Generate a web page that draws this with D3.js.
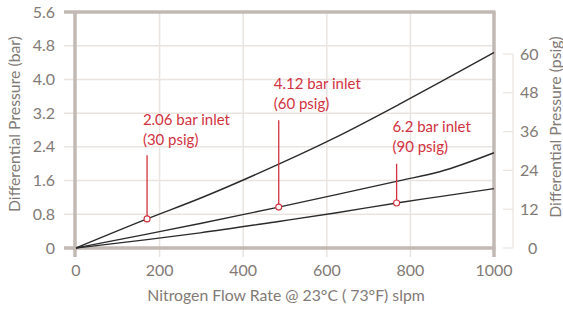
<!DOCTYPE html>
<html>
<head>
<meta charset="utf-8">
<script src="https://cdn.jsdelivr.net/npm/d3@7"></script>
<style>
  body { margin: 0; background: #fff; }
  svg { font-family: Lato, "Open Sans", sans-serif; }
</style>
</head>
<body>
<div id="chart"></div>
<script>
// flow (slpm) vs differential pressure (bar)
const flow = [0, 170, 297, 485, 620, 775, 870, 1000];
const bar206 = [0, 0.69, 1.18, 1.99, 2.62, 3.42, 3.93, 4.64];
const bar412 = [0, 0.33, 0.58, 0.97, 1.26, 1.6, 1.81, 2.26];
const bar62 = [0, 0.2, 0.36, 0.63, 0.83, 1.08, 1.22, 1.41];

const xTicks = [0, 200, 400, 600, 800, 1000];
const barTicks = [0, 0.8, 1.6, 2.4, 3.2, 4.0, 4.8, 5.6];
const psigTicks = [0, 12, 24, 36, 48, 60];

// annotations: label lines, flow of the marker, which series, label anchor in data units
const notes = [
  {lines: ["2.06 bar inlet", "(30 psig)"], flow: 170, series: bar206, lx: 160, ly: 2.93, top: 2.2},
  {lines: ["4.12 bar inlet", "(60 psig)"], flow: 485, series: bar412, lx: 473, ly: 3.77, top: 3.03},
  {lines: ["6.2 bar inlet", "(90 psig)"], flow: 767, series: bar62, lx: 757, ly: 2.76, top: 2.0}
];

const width = 563, height = 309;
const margin = {top: 12, right: 69, bottom: 61, left: 76};

const svg = d3.select("#chart").append("svg")
    .attr("width", width)
    .attr("height", height);

const x = d3.scaleLinear().domain([0, 1000]).range([margin.left, width - margin.right]);
const y = d3.scaleLinear().domain([0, 5.6]).range([height - margin.bottom, margin.top]);
// psig axis sits on its own scale
const y2 = d3.scaleLinear().domain([0, 60]).range([height - margin.bottom, 54]);

const gridCol = "#e9e4e0", axisCol = "#c2b9b3", textCol = "#827a76", red = "#d2323f";

// horizontal gridlines with a short stub to the left
svg.append("g")
  .selectAll("line")
  .data(barTicks.slice(1, -1))
  .join("line")
    .attr("x1", margin.left - 12)
    .attr("x2", x(1000))
    .attr("y1", d => y(d))
    .attr("y2", d => y(d))
    .attr("stroke", gridCol)
    .attr("stroke-width", 1.5);

// vertical gridlines, stub below
svg.append("g")
  .selectAll("line")
  .data(xTicks.slice(1, -1))
  .join("line")
    .attr("x1", d => x(d))
    .attr("x2", d => x(d))
    .attr("y1", y(5.6))
    .attr("y2", y(0) + 9)
    .attr("stroke", gridCol)
    .attr("stroke-width", 1.5);

// thick frame lines
svg.append("line")
    .attr("x1", margin.left - 12).attr("x2", x(1000) + 1.5)
    .attr("y1", y(0)).attr("y2", y(0))
    .attr("stroke", axisCol).attr("stroke-width", 3.5);
svg.append("line")
    .attr("x1", margin.left - 12).attr("x2", x(1000) + 1.5)
    .attr("y1", y(5.6)).attr("y2", y(5.6))
    .attr("stroke", axisCol).attr("stroke-width", 3.5);
svg.append("line")
    .attr("x1", x(0) - 1).attr("x2", x(0) - 1)
    .attr("y1", y(5.6)).attr("y2", y(0) + 9)
    .attr("stroke", axisCol).attr("stroke-width", 3.5);
svg.append("line")
    .attr("x1", x(1000)).attr("x2", x(1000))
    .attr("y1", y(5.6)).attr("y2", y(0) + 9)
    .attr("stroke", axisCol).attr("stroke-width", 3.5);

// left tick labels
svg.append("g")
  .selectAll("text")
  .data(barTicks)
  .join("text")
    .attr("x", 55)
    .attr("y", d => y(d))
    .attr("dy", "0.35em")
    .attr("text-anchor", "end")
    .attr("font-size", 16)
    .attr("fill", textCol)
    .text(d => d3.format(".1f")(d).replace(/^0\.0$/, "0"));

// bottom tick labels
svg.append("g")
  .selectAll("text")
  .data(xTicks)
  .join("text")
    .attr("x", d => x(d))
    .attr("y", 270)
    .attr("dy", "0.35em")
    .attr("text-anchor", "middle")
    .attr("font-size", 16)
    .attr("fill", textCol)
    .text(d => d);

// right psig axis
const right = svg.append("g").attr("transform", "translate(513,0)");
right.append("line")
    .attr("y1", y2(60)).attr("y2", y2(0))
    .attr("stroke", gridCol).attr("stroke-width", 1.2);
right.selectAll(".tk")
  .data(psigTicks)
  .join("line")
    .attr("x1", -10).attr("x2", 0)
    .attr("y1", d => y2(d)).attr("y2", d => y2(d))
    .attr("stroke", gridCol).attr("stroke-width", 1.2);
right.selectAll("text")
  .data(psigTicks)
  .join("text")
    .attr("x", d => d === 0 ? 15 : 7)
    .attr("y", d => y2(d))
    .attr("dy", "0.35em")
    .attr("font-size", 16)
    .attr("fill", textCol)
    .text(d => d);

// axis titles
svg.append("text")
    .attr("transform", "translate(20,124) rotate(-90)")
    .attr("text-anchor", "middle")
    .attr("font-size", 15.8)
    .attr("fill", textCol)
    .text("Differential Pressure (bar)");
svg.append("text")
    .attr("transform", "translate(561,127) rotate(-90)")
    .attr("text-anchor", "middle")
    .attr("font-size", 15.8)
    .attr("fill", textCol)
    .text("Differential Pressure (psig)");
svg.append("text")
    .attr("x", 286)
    .attr("y", 295)
    .attr("dy", "0.35em")
    .attr("text-anchor", "middle")
    .attr("font-size", 15.8)
    .attr("fill", textCol)
    .text("Nitrogen Flow Rate @ 23°C ( 73°F) slpm");

// curves
const line = d3.line().x((d, i) => x(flow[i])).y(d => y(d)).curve(d3.curveMonotoneX);
[bar206, bar412, bar62].forEach(s => {
  svg.append("path")
      .datum(s)
      .attr("fill", "none")
      .attr("stroke", "#2b2b2b")
      .attr("stroke-width", 1.4)
      .attr("d", line);
});

// annotations
notes.forEach(n => {
  const i = flow.indexOf(n.flow);
  const yv = i >= 0 ? n.series[i] : d3.scaleLinear().domain(flow).range(n.series)(n.flow);
  svg.append("line")
      .attr("x1", x(n.flow)).attr("x2", x(n.flow))
      .attr("y1", y(n.top)).attr("y2", y(yv))
      .attr("stroke", red).attr("stroke-width", 1.3);
  svg.append("circle")
      .attr("cx", x(n.flow)).attr("cy", y(yv))
      .attr("r", 3)
      .attr("fill", "#fff")
      .attr("stroke", red).attr("stroke-width", 1.1);
  const t = svg.append("text")
      .attr("x", x(n.lx))
      .attr("y", y(n.ly))
      .attr("font-size", 15)
      .attr("fill", red);
  n.lines.forEach((s, k) => {
    t.append("tspan").attr("x", x(n.lx)).attr("dy", k ? 20 : 0).text(s);
  });
});
</script>
</body>
</html>
